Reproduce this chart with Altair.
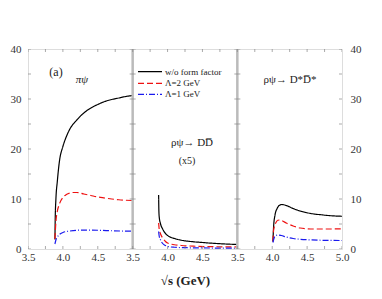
import altair as alt
import pandas as pd

# ---- data ----
series_names = ["w/o form factor", "Λ=2 GeV", "Λ=1 GeV"]
panel_offsets = [0.0, 1.5, 3.0]

# panel 1: pi psi
p1_black_s = [3.886, 3.89, 3.9, 3.92, 3.95, 4.0, 4.05, 4.1, 4.2, 4.3, 4.4, 4.5, 4.6, 4.7, 4.8, 4.9, 5.0]
p1_black_v = [1.9, 6, 10, 13.5, 17.5, 20.5, 22.5, 24, 25.8, 27.2, 28.2, 28.9, 29.5, 29.9, 30.2, 30.5, 30.7]
p1_red_s = [3.886, 3.9, 3.92, 3.95, 4.0, 4.05, 4.1, 4.15, 4.2, 4.3, 4.4, 4.5, 4.6, 4.7, 4.8, 4.9, 5.0]
p1_red_v = [2, 5.5, 7.5, 9, 10.3, 10.9, 11.2, 11.3, 11.3, 11.0, 10.7, 10.4, 10.2, 10.0, 9.85, 9.75, 9.7]
p1_blue_s = [3.886, 3.9, 3.92, 3.95, 4.0, 4.1, 4.2, 4.3, 4.5, 4.7, 5.0]
p1_blue_v = [1.0, 1.8, 2.4, 2.9, 3.3, 3.6, 3.75, 3.78, 3.75, 3.65, 3.55]

# panel 2: rho psi -> D Dbar (x5)
p2_black_s = [3.872, 3.875, 3.88, 3.9, 3.93, 3.97, 4.0, 4.1, 4.2, 4.3, 4.5, 4.7, 5.0]
p2_black_v = [10.8, 8, 6.5, 5, 4, 3.1, 2.7, 2.1, 1.75, 1.55, 1.3, 1.1, 0.9]
p2_red_s = [3.872, 3.88, 3.9, 3.93, 3.97, 4.0, 4.1, 4.2, 4.4, 4.7, 5.0]
p2_red_v = [5.2, 4.0, 3.0, 2.2, 1.5, 1.2, 0.85, 0.7, 0.55, 0.45, 0.4]
p2_blue_s = [3.872, 3.88, 3.9, 3.93, 3.97, 4.0, 4.1, 4.3, 4.6, 5.0]
p2_blue_v = [3.5, 2.6, 1.8, 1.1, 0.7, 0.5, 0.35, 0.25, 0.2, 0.15]

# panel 3: rho psi -> D* Dbar*
p3_black_s = [4.01, 4.02, 4.04, 4.07, 4.1, 4.14, 4.2, 4.3, 4.4, 4.5, 4.6, 4.7, 4.8, 4.9, 5.0]
p3_black_v = [1.5, 4.5, 6.8, 8.1, 8.7, 8.9, 8.7, 8.1, 7.6, 7.25, 7.0, 6.85, 6.7, 6.6, 6.55]
p3_red_s = [4.01, 4.02, 4.05, 4.08, 4.11, 4.15, 4.2, 4.3, 4.4, 4.5, 4.6, 4.8, 5.0]
p3_red_v = [1.5, 3.8, 5.2, 5.75, 5.8, 5.6, 5.2, 4.6, 4.2, 4.05, 4.0, 4.0, 4.05]
p3_blue_s = [4.01, 4.03, 4.06, 4.09, 4.13, 4.2, 4.3, 4.4, 4.5, 4.7, 5.0]
p3_blue_v = [1.3, 2.3, 2.75, 2.8, 2.7, 2.4, 2.1, 1.95, 1.85, 1.75, 1.7]

x_label_values = [0, 0.5, 1.0, 1.5, 2.0, 2.5, 3.0, 3.5, 4.0, 4.5]
y_label_values = [0, 10, 20, 30, 40]
x_minor_ticks = [0, 0.25, 0.5, 0.75, 1.0, 1.25, 1.5, 1.75, 2.0, 2.25, 2.5, 2.75, 3.0,
                 3.25, 3.5, 3.75, 4.0, 4.25, 4.5]
y_minor_ticks = [0, 5, 10, 15, 20, 25, 30, 35, 40]
frame_x = [0, 1.5, 3.0, 4.5]
separators = [1.5, 3.0]

# ---- build table ----
rows = []
curves = [
    (0, 0, p1_black_s, p1_black_v), (0, 1, p1_red_s, p1_red_v), (0, 2, p1_blue_s, p1_blue_v),
    (1, 0, p2_black_s, p2_black_v), (1, 1, p2_red_s, p2_red_v), (1, 2, p2_blue_s, p2_blue_v),
    (2, 0, p3_black_s, p3_black_v), (2, 1, p3_red_s, p3_red_v), (2, 2, p3_blue_s, p3_blue_v),
]
for p, si, ss, vs in curves:
    for s, v in zip(ss, vs):
        rows.append({"panel": p, "series": series_names[si],
                     "key": f"{p}-{si}", "x": s - 3.5 + panel_offsets[p], "y": v})
df = pd.DataFrame(rows)

SERIF = "Liberation Serif"
xscale = alt.Scale(domain=[0, 4.5], nice=False, zero=False)
yscale = alt.Scale(domain=[0, 40], nice=False)

color_scale = alt.Scale(domain=series_names, range=["#000000", "#ee1111", "#1a1aee"])
dash_scale = alt.Scale(domain=series_names, range=[[1, 0], [6, 3], [6, 2, 1, 2]])

label_expr = "datum.value >= 4.49 ? '5.0' : format(3.5 + (datum.value % 1.5), '.1f')"

lines = alt.Chart(df).mark_line(strokeWidth=1.2, interpolate="monotone", clip=True).encode(
    x=alt.X("x:Q", scale=xscale,
            axis=alt.Axis(values=x_label_values, labelExpr=label_expr, ticks=False,
                          domain=False, grid=False, labelFont=SERIF, labelFontSize=11,
                          labelColor="#333", labelPadding=2, labelOverlap=False,
                          labelFlush=False, title="√s (GeV)",
                          titleFont=SERIF, titleFontSize=13, titleFontWeight="bold",
                          titleColor="#222", titlePadding=12)),
    y=alt.Y("y:Q", scale=yscale,
            axis=alt.Axis(values=y_label_values, ticks=False, domain=False, grid=False,
                          labelFont=SERIF, labelFontSize=11, labelColor="#333",
                          labelPadding=7, labelOverlap=False, labelFlush=False,
                          title="σ (mb)", titleFont=SERIF,
                          titleFontSize=12, titleX=-31, titleColor="#333")),
    color=alt.Color("series:N", scale=color_scale, legend=None),
    strokeDash=alt.StrokeDash("series:N", scale=dash_scale, legend=None),
    detail="key:N",
    order="x:Q",
)

right_axis = alt.Chart(pd.DataFrame({"y": y_label_values})).mark_point(opacity=0).encode(
    y=alt.Y("y:Q", scale=yscale,
            axis=alt.Axis(orient="right", values=y_label_values, ticks=False, domain=False,
                          grid=False, labelFont=SERIF, labelFontSize=11, labelColor="#333",
                          labelPadding=8, labelOverlap=False, labelFlush=False, title="")),
)

sep = alt.Chart(pd.DataFrame({"x": separators})).mark_rule(color="#bbbbbb", strokeWidth=2.5).encode(
    x=alt.X("x:Q", scale=xscale, axis=None)
)

ytick_df = pd.DataFrame([{"x": fx, "y": yv} for fx in frame_x for yv in y_minor_ticks])
yticks = alt.Chart(ytick_df).mark_tick(orient="horizontal", size=6, thickness=1,
                                        color="#888", clip=True).encode(
    x=alt.X("x:Q", scale=xscale, axis=None), y=alt.Y("y:Q", scale=yscale, axis=None)
)
xtick_df = pd.DataFrame([{"x": xv, "y": yb} for yb in [0, 40] for xv in x_minor_ticks])
xticks = alt.Chart(xtick_df).mark_tick(orient="vertical", size=6, thickness=1,
                                        color="#888", clip=True).encode(
    x=alt.X("x:Q", scale=xscale, axis=None), y=alt.Y("y:Q", scale=yscale, axis=None)
)

# legend (drawn in panel 2)
leg_df = pd.DataFrame({"series": series_names, "row": [0, 1, 2]})
leg_y = {0: 22.7, 1: 34.3, 2: 45.3}
legend_layers = []
for i, name in enumerate(series_names):
    d = leg_df[leg_df["row"] == i]
    legend_layers.append(
        alt.Chart(d).mark_rule(strokeWidth=1.2).encode(
            x=alt.value(110), x2=alt.value(134), y=alt.value(leg_y[i]),
            color=alt.Color("series:N", scale=color_scale, legend=None),
            strokeDash=alt.StrokeDash("series:N", scale=dash_scale, legend=None),
        )
    )
    legend_layers.append(
        alt.Chart(d).mark_text(font=SERIF, fontSize=9, align="left", baseline="middle",
                               color="#222").encode(
            x=alt.value(137), y=alt.value(leg_y[i]), text="series:N")
    )

ann_df = pd.DataFrame({
    "text": ["(a)", "πψ", "ρψ→ DD̅", "(x5)", "ρψ→ D*D̅*"],
    "style": ["normal", "italic", "normal", "normal", "normal"],
})
ann_pos = [(28, 23, 12), (54, 31, 11), (164, 94, 11), (159, 112, 10), (262, 31, 11)]
ann_layers = []
for (px, py, fs), (_, r) in zip(ann_pos, ann_df.iterrows()):
    ann_layers.append(
        alt.Chart(pd.DataFrame([r])).mark_text(font=SERIF, fontSize=fs, fontStyle=r["style"],
                                               align="center", baseline="middle",
                                               color="#222").encode(
            x=alt.value(px), y=alt.value(py), text="text:N")
    )

chart = alt.layer(lines, right_axis, sep, yticks, xticks, *legend_layers, *ann_layers).resolve_axis(
    x="independent", y="independent"
).properties(
    width=314, height=200,
    autosize=alt.AutoSizeParams(type="none"),
    padding={"left": 20, "top": 41, "right": 30, "bottom": 40},
).configure_view(stroke="#999999", strokeWidth=1).configure(background="white")

chart.save("out.html", embed_options={"renderer": "svg", "actions": False})
